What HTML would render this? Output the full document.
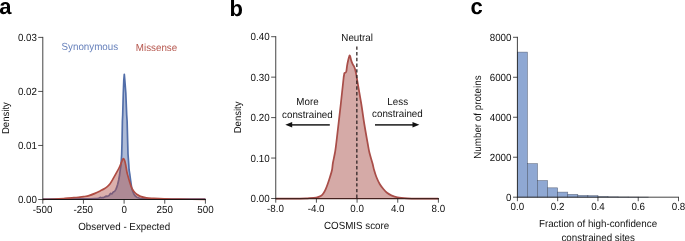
<!DOCTYPE html>
<html><head><meta charset="utf-8"><title>figure</title>
<style>
html,body{margin:0;padding:0;background:#fff;}
body{width:685px;height:241px;overflow:hidden;font-family:"Liberation Sans",sans-serif;}
svg{display:block;will-change:transform;font-family:"Liberation Sans",sans-serif;text-rendering:geometricPrecision;}
</style></head><body>
<svg width="685" height="241" viewBox="0 0 685 241">
<rect width="685" height="241" fill="#fff"/>
<g>
<text transform="translate(-0.8,14) scale(1,1.01)" text-anchor="start" font-size="22" fill="#000" font-weight="bold">a</text>
<text transform="translate(229.6,16) scale(1,1.01)" text-anchor="start" font-size="22" fill="#000" font-weight="bold">b</text>
<text transform="translate(470.6,14) scale(1,1.01)" text-anchor="start" font-size="22" fill="#000" font-weight="bold">c</text>
<path d="M42.80,199.00 L80.00,198.95 L90.00,198.80 L95.00,198.50 L97.50,198.60 L99.10,198.00 L100.20,197.40 L101.30,197.80 L102.40,197.50 L103.60,197.60 L104.70,197.10 L105.50,196.40 L106.20,196.00 L107.00,196.50 L107.65,196.30 L108.60,195.60 L109.50,195.20 L110.00,194.00 L110.60,193.40 L111.40,193.90 L112.10,193.70 L112.90,192.40 L113.60,191.80 L114.40,191.50 L115.10,190.70 L115.90,189.30 L116.60,187.70 L117.70,184.20 L118.70,180.00 L119.60,175.00 L120.20,170.00 L121.00,165.00 L121.70,154.00 L122.00,143.00 L122.40,121.00 L122.70,115.00 L123.30,93.00 L123.80,80.00 L124.30,74.30 L124.80,80.00 L125.80,93.00 L126.70,115.00 L127.10,121.00 L127.70,143.00 L128.00,154.00 L128.80,165.00 L129.10,170.00 L129.90,175.00 L130.60,180.40 L131.80,188.50 L132.60,191.00 L133.70,193.70 L135.20,195.90 L136.70,197.20 L139.70,198.30 L145.00,198.70 L150.00,198.90 L205.40,199.00 Z" fill="#526ea9" fill-opacity="0.47" stroke="none"/>
<path d="M42.80,199.00 L80.00,198.95 L90.00,198.80 L95.00,198.50 L97.50,198.60 L99.10,198.00 L100.20,197.40 L101.30,197.80 L102.40,197.50 L103.60,197.60 L104.70,197.10 L105.50,196.40 L106.20,196.00 L107.00,196.50 L107.65,196.30 L108.60,195.60 L109.50,195.20 L110.00,194.00 L110.60,193.40 L111.40,193.90 L112.10,193.70 L112.90,192.40 L113.60,191.80 L114.40,191.50 L115.10,190.70 L115.90,189.30 L116.60,187.70 L117.70,184.20 L118.70,180.00 L119.60,175.00 L120.20,170.00 L121.00,165.00 L121.70,154.00 L122.00,143.00 L122.40,121.00 L122.70,115.00 L123.30,93.00 L123.80,80.00 L124.30,74.30 L124.80,80.00 L125.80,93.00 L126.70,115.00 L127.10,121.00 L127.70,143.00 L128.00,154.00 L128.80,165.00 L129.10,170.00 L129.90,175.00 L130.60,180.40 L131.80,188.50 L132.60,191.00 L133.70,193.70 L135.20,195.90 L136.70,197.20 L139.70,198.30 L145.00,198.70 L150.00,198.90 L205.40,199.00" fill="none" stroke="#526ea9" stroke-width="1.7" stroke-linejoin="round"/>
<path d="M42.80,199.30 C44.83,199.26 51.30,199.19 55.00,199.05 C58.70,198.91 61.87,198.67 65.00,198.45 C68.13,198.22 71.30,197.92 73.80,197.70 C76.30,197.48 78.35,197.32 80.00,197.15 C81.65,196.98 82.20,196.90 83.70,196.65 C85.20,196.40 87.12,196.19 89.00,195.65 C90.88,195.11 93.13,194.19 95.00,193.40 C96.87,192.61 98.58,191.72 100.20,190.90 C101.82,190.08 103.45,189.28 104.70,188.50 C105.95,187.72 106.83,186.95 107.70,186.20 C108.57,185.45 109.08,185.10 109.90,184.00 C110.72,182.90 111.45,181.57 112.60,179.60 C113.75,177.63 115.65,174.30 116.80,172.20 C117.95,170.10 118.72,168.67 119.50,167.00 C120.28,165.33 120.97,163.47 121.50,162.20 C122.03,160.93 122.37,160.02 122.70,159.40 C123.03,158.78 123.23,158.47 123.50,158.50 C123.77,158.53 124.05,159.05 124.30,159.60 C124.55,160.15 124.75,160.82 125.00,161.80 C125.25,162.78 125.48,163.80 125.80,165.50 C126.12,167.20 126.45,169.92 126.90,172.00 C127.35,174.08 127.93,176.00 128.50,178.00 C129.07,180.00 129.78,182.42 130.30,184.00 C130.82,185.58 131.17,186.50 131.60,187.50 C132.03,188.50 132.40,189.20 132.90,190.00 C133.40,190.80 133.97,191.60 134.60,192.30 C135.23,193.00 135.73,193.52 136.70,194.20 C137.67,194.88 138.78,195.78 140.40,196.40 C142.02,197.02 144.15,197.57 146.40,197.90 C148.65,198.23 150.92,198.24 153.90,198.40 C156.88,198.56 159.95,198.72 164.30,198.85 C168.65,198.97 173.15,199.07 180.00,199.15 C186.85,199.23 201.17,199.28 205.40,199.30 Z" fill="#af4c43" fill-opacity="0.44" stroke="none"/>
<path d="M42.80,199.30 C44.83,199.26 51.30,199.19 55.00,199.05 C58.70,198.91 61.87,198.67 65.00,198.45 C68.13,198.22 71.30,197.92 73.80,197.70 C76.30,197.48 78.35,197.32 80.00,197.15 C81.65,196.98 82.20,196.90 83.70,196.65 C85.20,196.40 87.12,196.19 89.00,195.65 C90.88,195.11 93.13,194.19 95.00,193.40 C96.87,192.61 98.58,191.72 100.20,190.90 C101.82,190.08 103.45,189.28 104.70,188.50 C105.95,187.72 106.83,186.95 107.70,186.20 C108.57,185.45 109.08,185.10 109.90,184.00 C110.72,182.90 111.45,181.57 112.60,179.60 C113.75,177.63 115.65,174.30 116.80,172.20 C117.95,170.10 118.72,168.67 119.50,167.00 C120.28,165.33 120.97,163.47 121.50,162.20 C122.03,160.93 122.37,160.02 122.70,159.40 C123.03,158.78 123.23,158.47 123.50,158.50 C123.77,158.53 124.05,159.05 124.30,159.60 C124.55,160.15 124.75,160.82 125.00,161.80 C125.25,162.78 125.48,163.80 125.80,165.50 C126.12,167.20 126.45,169.92 126.90,172.00 C127.35,174.08 127.93,176.00 128.50,178.00 C129.07,180.00 129.78,182.42 130.30,184.00 C130.82,185.58 131.17,186.50 131.60,187.50 C132.03,188.50 132.40,189.20 132.90,190.00 C133.40,190.80 133.97,191.60 134.60,192.30 C135.23,193.00 135.73,193.52 136.70,194.20 C137.67,194.88 138.78,195.78 140.40,196.40 C142.02,197.02 144.15,197.57 146.40,197.90 C148.65,198.23 150.92,198.24 153.90,198.40 C156.88,198.56 159.95,198.72 164.30,198.85 C168.65,198.97 173.15,199.07 180.00,199.15 C186.85,199.23 201.17,199.28 205.40,199.30" fill="none" stroke="#af4c43" stroke-width="1.7" stroke-linejoin="round"/>
<line x1="42.8" y1="36.9" x2="42.8" y2="200.0" stroke="#1a1a1a" stroke-width="0.82" />
<line x1="42.8" y1="199.5" x2="205.9" y2="199.5" stroke="#141010" stroke-width="0.95" />
<line x1="38.199999999999996" y1="199.5" x2="42.8" y2="199.5" stroke="#1a1a1a" stroke-width="0.75" />
<text transform="translate(37.0,203.0) scale(1,1.05)" text-anchor="end" font-size="9.8" fill="#111" >0.00</text>
<line x1="38.199999999999996" y1="145.46666666666667" x2="42.8" y2="145.46666666666667" stroke="#1a1a1a" stroke-width="0.75" />
<text transform="translate(37.0,148.96666666666667) scale(1,1.05)" text-anchor="end" font-size="9.8" fill="#111" >0.01</text>
<line x1="38.199999999999996" y1="91.43333333333334" x2="42.8" y2="91.43333333333334" stroke="#1a1a1a" stroke-width="0.75" />
<text transform="translate(37.0,94.93333333333334) scale(1,1.05)" text-anchor="end" font-size="9.8" fill="#111" >0.02</text>
<line x1="38.199999999999996" y1="37.400000000000006" x2="42.8" y2="37.400000000000006" stroke="#1a1a1a" stroke-width="0.75" />
<text transform="translate(37.0,40.900000000000006) scale(1,1.05)" text-anchor="end" font-size="9.8" fill="#111" >0.03</text>
<line x1="42.8" y1="199.5" x2="42.8" y2="203.7" stroke="#1a1a1a" stroke-width="0.75" />
<text transform="translate(42.599999999999994,212.5) scale(1,1.05)" text-anchor="middle" font-size="9.8" fill="#111" >-500</text>
<line x1="83.45" y1="199.5" x2="83.45" y2="203.7" stroke="#1a1a1a" stroke-width="0.75" />
<text transform="translate(83.25,212.5) scale(1,1.05)" text-anchor="middle" font-size="9.8" fill="#111" >-250</text>
<line x1="124.10000000000001" y1="199.5" x2="124.10000000000001" y2="203.7" stroke="#1a1a1a" stroke-width="0.75" />
<text transform="translate(124.10000000000001,212.5) scale(1,1.05)" text-anchor="middle" font-size="9.8" fill="#111" >0</text>
<line x1="164.75" y1="199.5" x2="164.75" y2="203.7" stroke="#1a1a1a" stroke-width="0.75" />
<text transform="translate(164.75,212.5) scale(1,1.05)" text-anchor="middle" font-size="9.8" fill="#111" >250</text>
<line x1="205.40000000000003" y1="199.5" x2="205.40000000000003" y2="203.7" stroke="#1a1a1a" stroke-width="0.75" />
<text transform="translate(205.40000000000003,212.5) scale(1,1.05)" text-anchor="middle" font-size="9.8" fill="#111" >500</text>
<text transform="translate(124.2,229.5) scale(1,1.05)" text-anchor="middle" font-size="9.8" fill="#111" >Observed - Expected</text>
<text transform="translate(9.3,118.1) rotate(-90) scale(1,1.05)" text-anchor="middle" font-size="9.55" fill="#111" >Density</text>
<text transform="translate(61.5,49.9) scale(1,1.05)" text-anchor="start" font-size="9.8" fill="#6680bb" >Synonymous</text>
<text transform="translate(135.8,51.1) scale(1,1.05)" text-anchor="start" font-size="9.8" fill="#b5554c" >Missense</text>
<path d="M275.60,198.70 C279.67,198.68 294.68,198.67 300.00,198.60 C305.32,198.53 304.78,198.47 307.50,198.30 C310.22,198.13 314.10,197.97 316.30,197.60 C318.50,197.23 319.53,196.78 320.70,196.10 C321.87,195.42 322.48,194.63 323.30,193.50 C324.12,192.37 324.87,190.88 325.60,189.30 C326.33,187.72 326.97,186.05 327.70,184.00 C328.43,181.95 329.28,179.33 330.00,177.00 C330.72,174.67 331.52,172.33 332.00,170.00 C332.48,167.67 332.40,165.92 332.90,163.00 C333.40,160.08 334.43,155.83 335.00,152.50 C335.57,149.17 335.33,151.08 336.30,143.00 C337.27,134.92 339.58,114.83 340.80,104.00 C342.02,93.17 343.08,82.62 343.60,78.00 C344.12,73.38 343.77,77.10 343.90,76.30 C344.03,75.50 344.15,73.82 344.40,73.20 C344.65,72.58 345.08,72.90 345.40,72.60 C345.72,72.30 346.02,72.57 346.30,71.40 C346.58,70.23 346.77,67.55 347.10,65.60 C347.43,63.65 347.93,61.27 348.30,59.70 C348.67,58.13 349.07,56.93 349.30,56.20 C349.53,55.47 349.55,55.30 349.70,55.30 C349.85,55.30 349.98,55.47 350.20,56.20 C350.42,56.93 350.73,58.72 351.00,59.70 C351.27,60.68 351.50,61.32 351.80,62.10 C352.10,62.88 352.45,63.72 352.80,64.40 C353.15,65.08 353.53,65.43 353.90,66.20 C354.27,66.97 354.68,67.97 355.00,69.00 C355.32,70.03 355.55,71.25 355.80,72.40 C356.05,73.55 356.33,74.97 356.50,75.90 C356.67,76.83 356.00,73.32 356.80,78.00 C357.60,82.68 360.05,96.33 361.30,104.00 C362.55,111.67 363.25,117.50 364.30,124.00 C365.35,130.50 366.75,138.25 367.60,143.00 C368.45,147.75 368.60,149.17 369.40,152.50 C370.20,155.83 371.62,160.08 372.40,163.00 C373.18,165.92 373.43,167.67 374.10,170.00 C374.77,172.33 375.47,174.67 376.40,177.00 C377.33,179.33 378.50,181.95 379.70,184.00 C380.90,186.05 382.38,187.83 383.60,189.30 C384.82,190.77 385.72,191.78 387.00,192.80 C388.28,193.82 389.57,194.63 391.30,195.40 C393.03,196.17 394.72,196.92 397.40,197.40 C400.08,197.88 403.63,198.10 407.40,198.30 C411.17,198.50 414.85,198.53 420.00,198.60 C425.15,198.67 435.25,198.68 438.30,198.70 Z" fill="#d5aaa7" stroke="none"/>
<path d="M275.60,198.70 C279.67,198.68 294.68,198.67 300.00,198.60 C305.32,198.53 304.78,198.47 307.50,198.30 C310.22,198.13 314.10,197.97 316.30,197.60 C318.50,197.23 319.53,196.78 320.70,196.10 C321.87,195.42 322.48,194.63 323.30,193.50 C324.12,192.37 324.87,190.88 325.60,189.30 C326.33,187.72 326.97,186.05 327.70,184.00 C328.43,181.95 329.28,179.33 330.00,177.00 C330.72,174.67 331.52,172.33 332.00,170.00 C332.48,167.67 332.40,165.92 332.90,163.00 C333.40,160.08 334.43,155.83 335.00,152.50 C335.57,149.17 335.33,151.08 336.30,143.00 C337.27,134.92 339.58,114.83 340.80,104.00 C342.02,93.17 343.08,82.62 343.60,78.00 C344.12,73.38 343.77,77.10 343.90,76.30 C344.03,75.50 344.15,73.82 344.40,73.20 C344.65,72.58 345.08,72.90 345.40,72.60 C345.72,72.30 346.02,72.57 346.30,71.40 C346.58,70.23 346.77,67.55 347.10,65.60 C347.43,63.65 347.93,61.27 348.30,59.70 C348.67,58.13 349.07,56.93 349.30,56.20 C349.53,55.47 349.55,55.30 349.70,55.30 C349.85,55.30 349.98,55.47 350.20,56.20 C350.42,56.93 350.73,58.72 351.00,59.70 C351.27,60.68 351.50,61.32 351.80,62.10 C352.10,62.88 352.45,63.72 352.80,64.40 C353.15,65.08 353.53,65.43 353.90,66.20 C354.27,66.97 354.68,67.97 355.00,69.00 C355.32,70.03 355.55,71.25 355.80,72.40 C356.05,73.55 356.33,74.97 356.50,75.90 C356.67,76.83 356.00,73.32 356.80,78.00 C357.60,82.68 360.05,96.33 361.30,104.00 C362.55,111.67 363.25,117.50 364.30,124.00 C365.35,130.50 366.75,138.25 367.60,143.00 C368.45,147.75 368.60,149.17 369.40,152.50 C370.20,155.83 371.62,160.08 372.40,163.00 C373.18,165.92 373.43,167.67 374.10,170.00 C374.77,172.33 375.47,174.67 376.40,177.00 C377.33,179.33 378.50,181.95 379.70,184.00 C380.90,186.05 382.38,187.83 383.60,189.30 C384.82,190.77 385.72,191.78 387.00,192.80 C388.28,193.82 389.57,194.63 391.30,195.40 C393.03,196.17 394.72,196.92 397.40,197.40 C400.08,197.88 403.63,198.10 407.40,198.30 C411.17,198.50 414.85,198.53 420.00,198.60 C425.15,198.67 435.25,198.68 438.30,198.70" fill="none" stroke="#a94e49" stroke-width="1.75" stroke-linejoin="round"/>
<line x1="356.85" y1="46.4" x2="356.85" y2="198.5" stroke="#2a2020" stroke-width="1.25" stroke-dasharray="3.4 2.3"/>
<line x1="275.75" y1="36.2" x2="275.75" y2="199.0" stroke="#1a1a1a" stroke-width="0.82" />
<line x1="275.75" y1="198.6" x2="438.9" y2="198.6" stroke="#45221f" stroke-width="1.25" />
<line x1="271.15" y1="198.5" x2="275.75" y2="198.5" stroke="#1a1a1a" stroke-width="0.75" />
<text transform="translate(269.6,202.0) scale(1,1.05)" text-anchor="end" font-size="9.8" fill="#111" >0.00</text>
<line x1="271.15" y1="158.05" x2="275.75" y2="158.05" stroke="#1a1a1a" stroke-width="0.75" />
<text transform="translate(269.6,161.55) scale(1,1.05)" text-anchor="end" font-size="9.8" fill="#111" >0.10</text>
<line x1="271.15" y1="117.6" x2="275.75" y2="117.6" stroke="#1a1a1a" stroke-width="0.75" />
<text transform="translate(269.6,121.1) scale(1,1.05)" text-anchor="end" font-size="9.8" fill="#111" >0.20</text>
<line x1="271.15" y1="77.14999999999999" x2="275.75" y2="77.14999999999999" stroke="#1a1a1a" stroke-width="0.75" />
<text transform="translate(269.6,80.64999999999999) scale(1,1.05)" text-anchor="end" font-size="9.8" fill="#111" >0.30</text>
<line x1="271.15" y1="36.69999999999999" x2="275.75" y2="36.69999999999999" stroke="#1a1a1a" stroke-width="0.75" />
<text transform="translate(269.6,40.19999999999999) scale(1,1.05)" text-anchor="end" font-size="9.8" fill="#111" >0.40</text>
<line x1="275.75" y1="198.5" x2="275.75" y2="202.7" stroke="#1a1a1a" stroke-width="0.75" />
<text transform="translate(275.45,211.8) scale(1,1.05)" text-anchor="middle" font-size="9.8" fill="#111" >-8.0</text>
<line x1="316.4125" y1="198.5" x2="316.4125" y2="202.7" stroke="#1a1a1a" stroke-width="0.75" />
<text transform="translate(316.1125,211.8) scale(1,1.05)" text-anchor="middle" font-size="9.8" fill="#111" >-4.0</text>
<line x1="357.075" y1="198.5" x2="357.075" y2="202.7" stroke="#1a1a1a" stroke-width="0.75" />
<text transform="translate(357.075,211.8) scale(1,1.05)" text-anchor="middle" font-size="9.8" fill="#111" >0.0</text>
<line x1="397.73749999999995" y1="198.5" x2="397.73749999999995" y2="202.7" stroke="#1a1a1a" stroke-width="0.75" />
<text transform="translate(397.73749999999995,211.8) scale(1,1.05)" text-anchor="middle" font-size="9.8" fill="#111" >4.0</text>
<line x1="438.4" y1="198.5" x2="438.4" y2="202.7" stroke="#1a1a1a" stroke-width="0.75" />
<text transform="translate(438.4,211.8) scale(1,1.05)" text-anchor="middle" font-size="9.8" fill="#111" >8.0</text>
<text transform="translate(356.6,229.1) scale(1,1.05)" text-anchor="middle" font-size="9.8" fill="#111" >COSMIS score</text>
<text transform="translate(241.2,117.4) rotate(-90) scale(1,1.05)" text-anchor="middle" font-size="9.55" fill="#111" >Density</text>
<text transform="translate(357.1,40.8) scale(1,1.05)" text-anchor="middle" font-size="9.8" fill="#111" >Neutral</text>
<text transform="translate(307.5,105.0) scale(1,1.05)" text-anchor="middle" font-size="9.8" fill="#111" >More</text>
<text transform="translate(307.4,117.6) scale(1,1.05)" text-anchor="middle" font-size="9.8" fill="#111" >constrained</text>
<text transform="translate(397.7,104.7) scale(1,1.05)" text-anchor="middle" font-size="9.8" fill="#111" >Less</text>
<text transform="translate(397.4,117.2) scale(1,1.05)" text-anchor="middle" font-size="9.8" fill="#111" >constrained</text>
<line x1="291" y1="124.8" x2="329.8" y2="124.8" stroke="#3a3a3a" stroke-width="1.8" />
<path d="M285.3,124.8 L292.2,122.1 L292.2,127.5 Z" fill="#111"/>
<line x1="375" y1="124.8" x2="414" y2="124.8" stroke="#3a3a3a" stroke-width="1.8" />
<path d="M419.4,124.8 L412.5,122.1 L412.5,127.5 Z" fill="#111"/>
<rect x="517.40" y="52.1" width="10.07" height="145.10" fill="#8fa8d3" stroke="#30384a" stroke-opacity="0.62" stroke-width="0.6"/>
<rect x="527.47" y="163.6" width="10.07" height="33.60" fill="#8fa8d3" stroke="#30384a" stroke-opacity="0.62" stroke-width="0.6"/>
<rect x="537.54" y="180.5" width="10.07" height="16.70" fill="#8fa8d3" stroke="#30384a" stroke-opacity="0.62" stroke-width="0.6"/>
<rect x="547.61" y="187.8" width="10.07" height="9.40" fill="#8fa8d3" stroke="#30384a" stroke-opacity="0.62" stroke-width="0.6"/>
<rect x="557.67" y="192.1" width="10.07" height="5.10" fill="#8fa8d3" stroke="#30384a" stroke-opacity="0.62" stroke-width="0.6"/>
<rect x="567.74" y="194.35" width="10.07" height="2.85" fill="#8fa8d3" stroke="#30384a" stroke-opacity="0.62" stroke-width="0.6"/>
<rect x="577.81" y="195.4" width="10.07" height="1.80" fill="#8fa8d3" stroke="#30384a" stroke-opacity="0.62" stroke-width="0.6"/>
<rect x="587.88" y="195.65" width="10.07" height="1.55" fill="#8fa8d3" stroke="#30384a" stroke-opacity="0.62" stroke-width="0.6"/>
<rect x="597.95" y="196.6" width="10.07" height="0.60" fill="#8fa8d3" stroke="#30384a" stroke-opacity="0.62" stroke-width="0.6"/>
<rect x="608.02" y="196.8" width="10.07" height="0.40" fill="#8fa8d3" stroke="#30384a" stroke-opacity="0.62" stroke-width="0.6"/>
<rect x="618.09" y="196.95" width="10.07" height="0.25" fill="#8fa8d3" stroke="#30384a" stroke-opacity="0.62" stroke-width="0.6"/>
<rect x="628.16" y="197.0" width="10.07" height="0.20" fill="#8fa8d3" stroke="#30384a" stroke-opacity="0.62" stroke-width="0.6"/>
<rect x="638.23" y="197.1" width="10.07" height="0.10" fill="#8fa8d3" stroke="#30384a" stroke-opacity="0.62" stroke-width="0.6"/>
<line x1="517.4" y1="36.8" x2="517.4" y2="197.7" stroke="#1a1a1a" stroke-width="0.82" />
<line x1="517.4" y1="197.2" x2="679.0" y2="197.2" stroke="#1a1a1a" stroke-width="0.82" />
<line x1="513.0" y1="197.2" x2="517.4" y2="197.2" stroke="#1a1a1a" stroke-width="0.75" />
<text transform="translate(511.5,200.7) scale(1,1.05)" text-anchor="end" font-size="9.8" fill="#111" >0</text>
<line x1="513.0" y1="157.225" x2="517.4" y2="157.225" stroke="#1a1a1a" stroke-width="0.75" />
<text transform="translate(511.5,160.725) scale(1,1.05)" text-anchor="end" font-size="9.8" fill="#111" >2000</text>
<line x1="513.0" y1="117.25" x2="517.4" y2="117.25" stroke="#1a1a1a" stroke-width="0.75" />
<text transform="translate(511.5,120.75) scale(1,1.05)" text-anchor="end" font-size="9.8" fill="#111" >4000</text>
<line x1="513.0" y1="77.275" x2="517.4" y2="77.275" stroke="#1a1a1a" stroke-width="0.75" />
<text transform="translate(511.5,80.775) scale(1,1.05)" text-anchor="end" font-size="9.8" fill="#111" >6000</text>
<line x1="513.0" y1="37.30000000000001" x2="517.4" y2="37.30000000000001" stroke="#1a1a1a" stroke-width="0.75" />
<text transform="translate(511.5,40.80000000000001) scale(1,1.05)" text-anchor="end" font-size="9.8" fill="#111" >8000</text>
<line x1="517.4" y1="197.2" x2="517.4" y2="201.2" stroke="#1a1a1a" stroke-width="0.75" />
<text transform="translate(517.4,210.3) scale(1,1.05)" text-anchor="middle" font-size="9.8" fill="#111" >0.0</text>
<line x1="557.675" y1="197.2" x2="557.675" y2="201.2" stroke="#1a1a1a" stroke-width="0.75" />
<text transform="translate(557.675,210.3) scale(1,1.05)" text-anchor="middle" font-size="9.8" fill="#111" >0.2</text>
<line x1="597.95" y1="197.2" x2="597.95" y2="201.2" stroke="#1a1a1a" stroke-width="0.75" />
<text transform="translate(597.95,210.3) scale(1,1.05)" text-anchor="middle" font-size="9.8" fill="#111" >0.4</text>
<line x1="638.225" y1="197.2" x2="638.225" y2="201.2" stroke="#1a1a1a" stroke-width="0.75" />
<text transform="translate(638.225,210.3) scale(1,1.05)" text-anchor="middle" font-size="9.8" fill="#111" >0.6</text>
<line x1="678.5" y1="197.2" x2="678.5" y2="201.2" stroke="#1a1a1a" stroke-width="0.75" />
<text transform="translate(678.5,210.3) scale(1,1.05)" text-anchor="middle" font-size="9.8" fill="#111" >0.8</text>
<text transform="translate(598,227.4) scale(1,1.05)" text-anchor="middle" font-size="9.8" fill="#111" >Fraction of high-confidence</text>
<text transform="translate(598.2,241.3) scale(1,1.05)" text-anchor="middle" font-size="9.8" fill="#111" >constrained sites</text>
<text transform="translate(480.6,117.1) rotate(-90) scale(1,1.05)" text-anchor="middle" font-size="9.8" fill="#111" >Number of proteins</text>
</g>
</svg>
</body></html>
